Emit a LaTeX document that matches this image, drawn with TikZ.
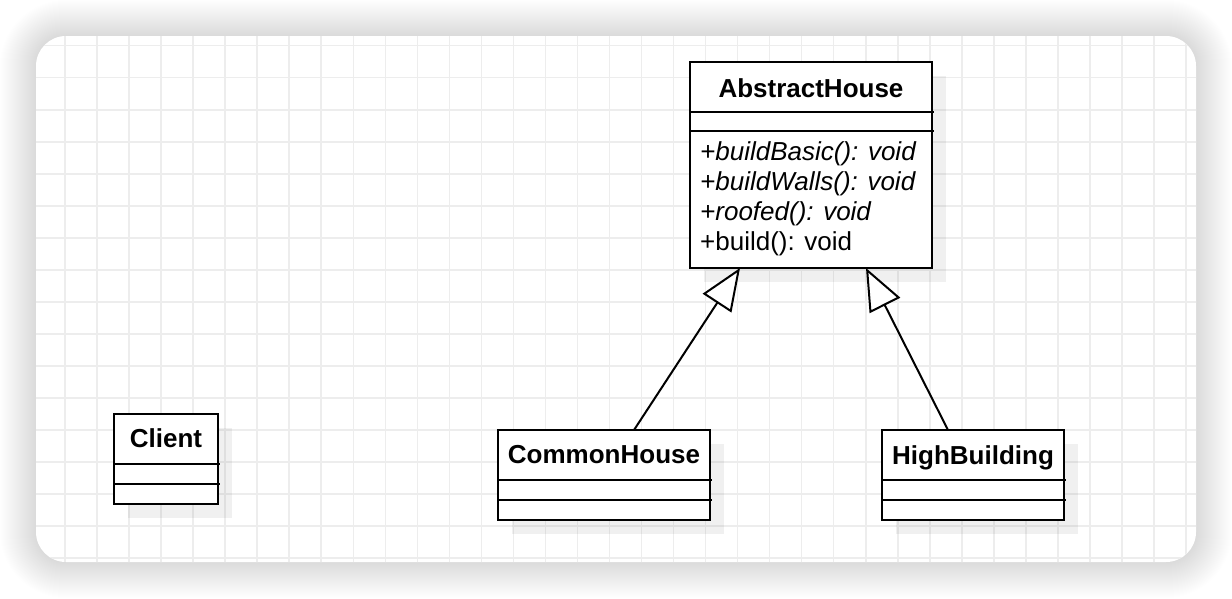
\documentclass[tikz,border=0pt]{standalone}
\usepackage{fontspec}
\setmainfont{Liberation Sans}
\usetikzlibrary{arrows.meta,calc}
\begin{document}
\begin{tikzpicture}[x=1pt,y=-1pt,
  umlbox/.style={draw=black, line width=2pt, fill=white, inner sep=0pt, outer sep=0pt},
  boxshadow/.style={fill=black, fill opacity=0.06},
  titletext/.style={font=\fontsize{26}{30}\selectfont\bfseries, inner sep=0pt, anchor=base},
  methtext/.style={font=\fontsize{26}{30}\selectfont, inner sep=0pt, anchor=base west},
  sepline/.style={line width=2pt},
  gridline/.style={draw=black!7, line width=1.5pt},
  inherit/.style={line width=2pt, -{Triangle[length=42pt,width=34pt,fill=white]}}
]
\useasboundingbox (0,0) rectangle (1232,598);
\fill[white] (0,0) rectangle (1232,598);
% canvas shadow
\foreach \e in {1,...,36} {
  \pgfmathsetmacro\rr{30+\e}
  \fill[black, opacity=0.0045, rounded corners=\rr pt] ({36-\e},{36-\e}) rectangle ({1196+\e},{562+\e});
}
% canvas
\fill[white, rounded corners=30pt] (36,36) rectangle (1196,562);
\begin{scope}
  \clip[rounded corners=30pt] (36,36) rectangle (1196,562);
  \foreach \i in {0,...,36} \draw[gridline] ({32.97+32.03*\i},30) -- ({32.97+32.03*\i},570);
  \foreach \j in {0,...,16} \draw[gridline] (30,{45.7+32.03*\j}) -- (1200,{45.7+32.03*\j});
\end{scope}

% AbstractHouse
\fill[boxshadow] (704,76) rectangle (946,282);
\node[umlbox, minimum width=242pt, minimum height=206pt] (ah) at (811,165) {};
\node[titletext] (ahname) at (811,97) {AbstractHouse};
\draw[sepline] (ah.west |- 0,112) -- ++(244,0);
\draw[sepline] (ah.west |- 0,131) -- ++(244,0);
\node[methtext, font=\fontsize{26}{30}\selectfont\itshape] (m1) at (700,160) {+buildBasic(): void};
\node[methtext, font=\fontsize{26}{30}\selectfont\itshape] (m2) at (700,190) {+buildWalls(): void};
\node[methtext, font=\fontsize{26}{30}\selectfont\itshape] (m3) at (700,220) {+roofed(): void};
\node[methtext] (m4) at (700,250) {+build(): void};

% Client
\fill[boxshadow] (128,428) rectangle (232,518);
\node[umlbox, minimum width=104pt, minimum height=90pt] (cl) at (166,459) {};
\node[titletext] (clname) at (166,447) {Client};
\draw[sepline] (cl.west |- 0,464) -- ++(106,0);
\draw[sepline] (cl.west |- 0,484) -- ++(106,0);

% CommonHouse
\fill[boxshadow] (512,444) rectangle (724,534);
\node[umlbox, minimum width=212pt, minimum height=90pt] (ch) at (604,475) {};
\node[titletext] (chname) at (604,463.5) {CommonHouse};
\draw[sepline] (ch.west |- 0,480) -- ++(214,0);
\draw[sepline] (ch.west |- 0,500) -- ++(214,0);

% HighBuilding
\fill[boxshadow] (896,444) rectangle (1078,534);
\node[umlbox, minimum width=182pt, minimum height=90pt] (hb) at (973,475) {};
\node[titletext] (hbname) at (973,464) {HighBuilding};
\draw[sepline] (hb.west |- 0,480) -- ++(184,0);
\draw[sepline] (hb.west |- 0,500) -- ++(184,0);

% inheritance
\draw[inherit] ([xshift=30pt]ch.north) -- ([xshift=50pt]ah.south west);
\draw[inherit] ([xshift=-25pt]hb.north) -- ([xshift=176pt]ah.south west);
\end{tikzpicture}
\end{document}
